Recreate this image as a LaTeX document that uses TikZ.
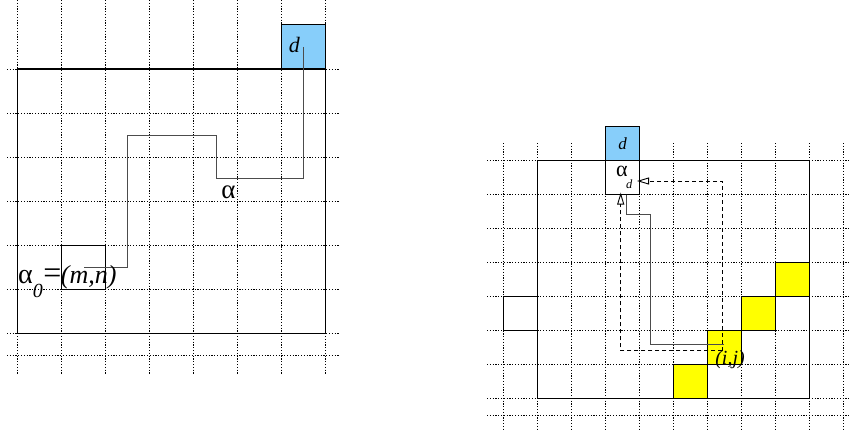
\documentclass[tikz,border=0pt]{standalone}
\usepackage{fontspec}
\setmainfont{Liberation Serif}
\usetikzlibrary{arrows.meta}
\definecolor{skyblue}{RGB}{135,206,250}
\definecolor{cellyellow}{RGB}{255,255,0}
\newcommand{\fs}[1]{\fontsize{#1}{#1}\selectfont}
\begin{document}
\begin{tikzpicture}[x=1pt,y=-1pt,
  gridline/.style={line width=0.6pt, dash pattern=on 1.2pt off 1.6pt},
  frame/.style={draw, line width=1.3pt},
  cell/.style={draw, line width=1pt, minimum size=#1, inner sep=0pt, outer sep=0pt},
  route/.style={draw=black!70, line width=0.9pt},
  back/.style={draw, line width=0.9pt, dash pattern=on 4pt off 3pt},
  tip/.style={-{Triangle[open,length=12pt,width=7pt,line width=0.9pt]}}
]
\useasboundingbox (0,0) rectangle (851,432);

% ---------- left panel: grid ----------
\foreach \k in {0,...,7}
  \draw[gridline] ({17.3+44.05*\k},0) -- ({17.3+44.05*\k},374);
\foreach \y in {69,113,157,201,245,289,333,355}
  \draw[gridline] (7,\y) -- (340,\y);

\draw[frame] (17.3,69) rectangle (325.7,333.3);

% target cell and start cell
\node[cell=44pt, fill=skyblue] (dL) at (303.7,46.8) {};
\node[cell=44pt] (startL) at (83.5,267) {};
\node[font=\fs{22}\itshape, inner sep=0pt] (dtextL) at (294.3,45) {d};

% staircase path alpha
\draw[route] (dL.center) |- (216,178.7) |- (127.7,135) |- (startL.center);

\node[font=\fs{27}, inner sep=0pt] (alphaL) at (228.5,192.5) {α};
\node[anchor=base west, inner sep=0pt] (startlab) at (18,283.5)
  {\fs{28}α\raisebox{-14pt}{\fs{20}\itshape 0}\kern0.5pt{\fs{32}=}\kern-0.5pt{\fs{26}\itshape (m,n)}};

% ---------- right panel: grid ----------
\foreach \k in {0,...,10}
  \draw[gridline] ({503.5+34*\k},143) -- ({503.5+34*\k},430);
\foreach \y in {160.5,194.5,228.5,262.5,296.5,330.5,364.5,398.3,415}
  \draw[gridline] (487,\y) -- (851,\y);

\draw[frame] (537.5,160.5) rectangle (809.5,398.3);

\node[cell=34pt, fill=skyblue, font=\fs{17}\itshape] (dR) at (622.5,143.3) {d};
\node[cell=34pt, fill=white] (ad) at (622.5,177.5) {};
\node[anchor=base west, inner sep=0pt] (adlab) at (616,176.7)
  {\fs{22}α\kern-1.5pt\raisebox{-11.6pt}{\fs{12.5}\itshape d}};

\node[cell=34pt] (outR) at (520.5,313.4) {};

\node[cell=34pt, fill=cellyellow] (y1) at (690.5,381.4) {};
\node[cell=34pt, fill=cellyellow] (y2) at (724.5,347.4) {};
\node[cell=34pt, fill=cellyellow] (y3) at (758.5,313.4) {};
\node[cell=34pt, fill=cellyellow] (y4) at (792.5,279.4) {};

\coordinate (ijr) at (724,344.3);
\coordinate (ijb) at (722.3,350.7);

% forward path from alpha_d to (i,j)
\draw[route] ([xshift=4.2pt]ad.south) |- (650.7,214) |- (ijr);

% dashed return paths from (i,j) back to alpha_d
\draw[back, tip] (ijb) -| ([xshift=-1.8pt,yshift=2pt]ad.south);
\draw[back, tip] (ijb) |- ([xshift=-2.5pt,yshift=-3.5pt]ad.east);

\node[font=\fs{20}\itshape, inner sep=0pt] (ijlab) at (730,360) {(i,j)};
\end{tikzpicture}
\end{document}
